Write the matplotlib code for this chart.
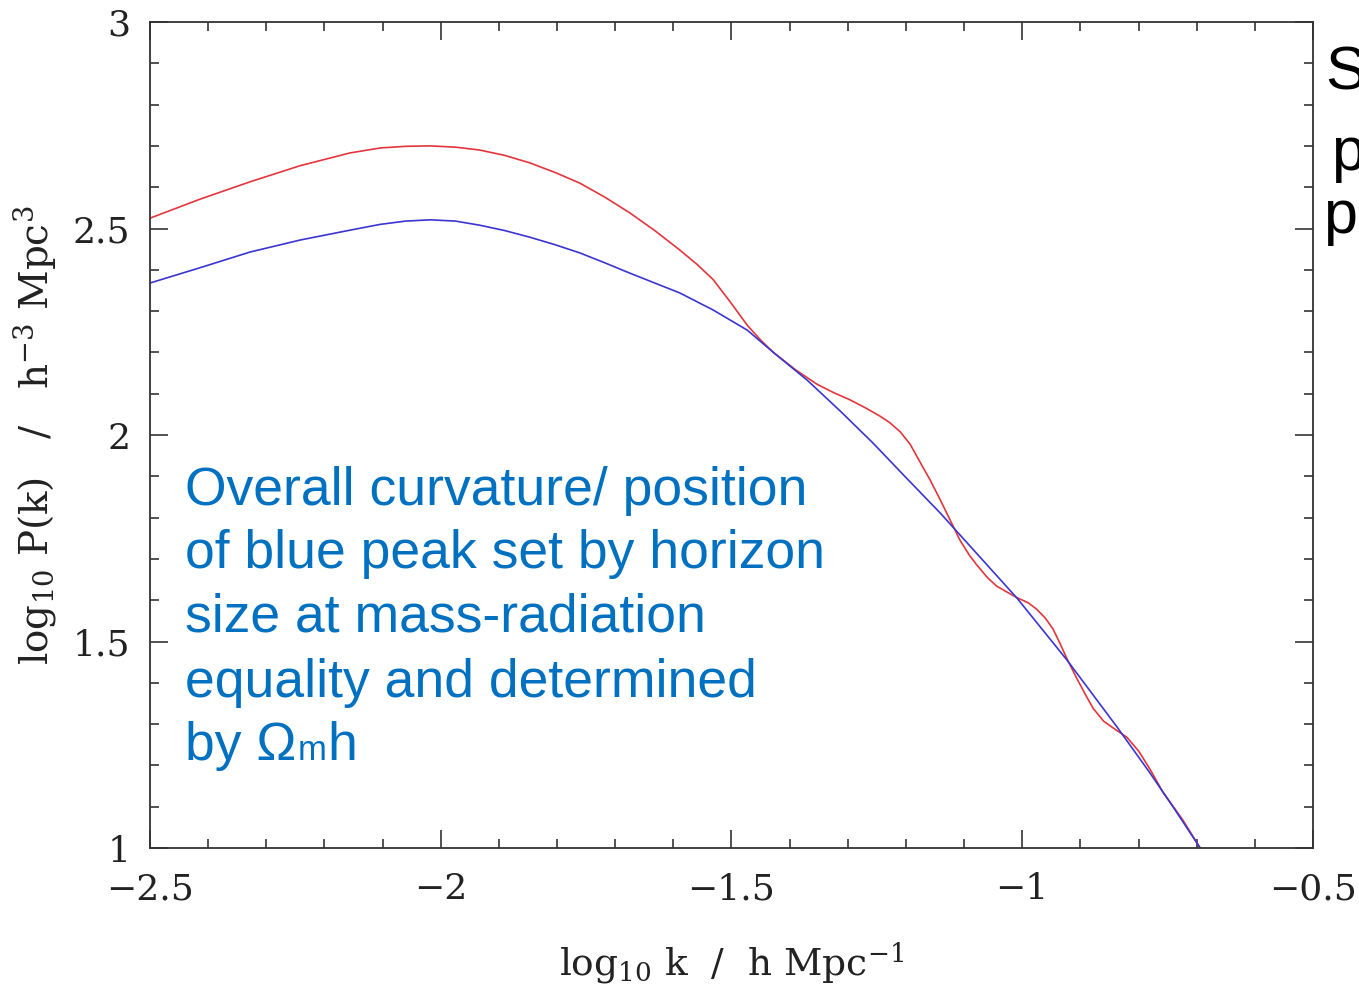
import numpy as np
import matplotlib
matplotlib.use('Agg')
import matplotlib.pyplot as plt

# curves (log10 k, log10 P)
blue_x = [-2.500, -2.414, -2.328, -2.242, -2.156, -2.104, -2.060, -2.018, -1.975, -1.933,
          -1.890, -1.847, -1.804, -1.761, -1.718, -1.675, -1.632, -1.589, -1.532, -1.473,
          -1.428, -1.370, -1.313, -1.257, -1.200, -1.141, -1.075, -1.009, -0.966, -0.923,
          -0.880, -0.837, -0.780, -0.737, -0.694, -0.680]
blue_y = [2.368, 2.405, 2.443, 2.472, 2.496, 2.510, 2.518, 2.521, 2.518, 2.508,
          2.495, 2.479, 2.461, 2.441, 2.417, 2.392, 2.368, 2.344, 2.303, 2.254,
          2.200, 2.133, 2.058, 1.981, 1.897, 1.811, 1.708, 1.605, 1.530, 1.455,
          1.374, 1.293, 1.181, 1.092, 1.000, 0.970]

red_x = [-2.500, -2.414, -2.328, -2.242, -2.156, -2.104, -2.060, -2.018, -1.975, -1.933,
         -1.890, -1.847, -1.804, -1.761, -1.718, -1.675, -1.632, -1.589, -1.560, -1.532,
         -1.502, -1.473, -1.450, -1.428, -1.390, -1.353, -1.325, -1.296, -1.270, -1.245,
         -1.228, -1.210, -1.193, -1.176, -1.158, -1.141, -1.124, -1.107, -1.090, -1.078,
         -1.060, -1.044, -1.009, -0.990, -0.975, -0.960, -0.947, -0.935, -0.923, -0.906,
         -0.890, -0.878, -0.860, -0.844, -0.820, -0.800, -0.780, -0.758, -0.724, -0.694,
         -0.680]
red_y = [2.525, 2.571, 2.613, 2.652, 2.683, 2.695, 2.699, 2.700, 2.697, 2.690,
         2.677, 2.659, 2.636, 2.610, 2.576, 2.538, 2.495, 2.448, 2.414, 2.377,
         2.322, 2.266, 2.230, 2.200, 2.158, 2.123, 2.103, 2.085, 2.066, 2.046,
         2.030, 2.008, 1.978, 1.935, 1.890, 1.843, 1.794, 1.745, 1.707, 1.685,
         1.655, 1.634, 1.606, 1.594, 1.578, 1.556, 1.530, 1.495, 1.458, 1.410,
         1.368, 1.338, 1.307, 1.291, 1.268, 1.235, 1.190, 1.135, 1.068, 1.000,
         0.970]

xticks = [-2.5, -2, -1.5, -1, -0.5]
xtick_labels = ['\u22122.5', '\u22122', '\u22121.5', '\u22121', '\u22120.5']
yticks = [1, 1.5, 2, 2.5, 3]
ytick_labels = ['1', '1.5', '2', '2.5', '3']

note_lines = ['Overall curvature/ position',
              'of blue peak set by horizon',
              'size at mass-radiation',
              'equality and determined']
note_last = ['by \u03a9', 'm', 'h']
side_letters = ['S', 'p', 'p']

W, H = 1359, 985
fig = plt.figure(figsize=(W / 100, H / 100), dpi=100)
ax = fig.add_axes([150 / W, 1 - 848 / H, (1313 - 150) / W, (848 - 22) / H])

ax.plot(red_x, red_y, color='#e2363c', lw=1.2)
ax.plot(blue_x, blue_y, color='#3a35d0', lw=1.2)

ax.set_xlim(-2.5, -0.5)
ax.set_ylim(1, 3)
ax.set_xticks(xticks)
ax.set_xticklabels(xtick_labels)
ax.set_yticks(yticks)
ax.set_yticklabels(ytick_labels)
ax.set_xticks(np.arange(-2.5, -0.45, 0.1), minor=True)
ax.set_yticks(np.arange(1, 3.01, 0.1), minor=True)
ax.tick_params(which='both', direction='in', top=True, right=True, width=1.2, color='#333333')
ax.tick_params(which='major', length=13, labelsize=26, pad=14)
ax.tick_params(axis='x', which='major', pad=17.5)
ax.tick_params(which='minor', length=6.5)
for lab in ax.get_xticklabels() + ax.get_yticklabels():
    lab.set_family('DejaVu Serif')
    lab.set_color('#222222')
for s in ax.spines.values():
    s.set_linewidth(1.3)
    s.set_color('#333333')

ax.set_xlabel(r'log$_{10}$ k  /  h Mpc$^{-1}$', family='DejaVu Serif', fontsize=27,
              math_fontfamily='dejavuserif', color='#222222')
ax.set_ylabel(r'log$_{10}$ P(k)   /   h$^{-3}$ Mpc$^{3}$', family='DejaVu Serif', fontsize=28,
              math_fontfamily='dejavuserif', color='#222222')
ax.xaxis.set_label_coords(0.5, -(940 - 848) / 826)
ax.yaxis.set_label_coords((58 - 150) / 1163, 0.5)

baselines = [505, 568, 632, 697, 760]
for line, b in zip(note_lines, baselines):
    fig.text(185 / W, 1 - b / H, line, family='Liberation Sans', fontsize=38.5,
             color='#0070c0', va='baseline', ha='left')

# last line: "by Ω" + small "m" + "h", placed one after the other
fig.canvas.draw()
renderer = fig.canvas.get_renderer()
xpos = 185
for piece, size in zip(note_last, [38.5, 25, 38.5]):
    t = fig.text(xpos / W, 1 - baselines[-1] / H, piece, family='Liberation Sans',
                 fontsize=size, color='#0070c0', va='baseline', ha='left')
    xpos = t.get_window_extent(renderer).x1 + 1

for letter, xp, b in zip(side_letters, [1325, 1331, 1323], [90, 170, 233]):
    fig.text(xp / W, 1 - b / H, letter, family='Liberation Sans', fontsize=44,
             color='black', va='baseline', ha='left')

fig.savefig('out.png', dpi=100)
